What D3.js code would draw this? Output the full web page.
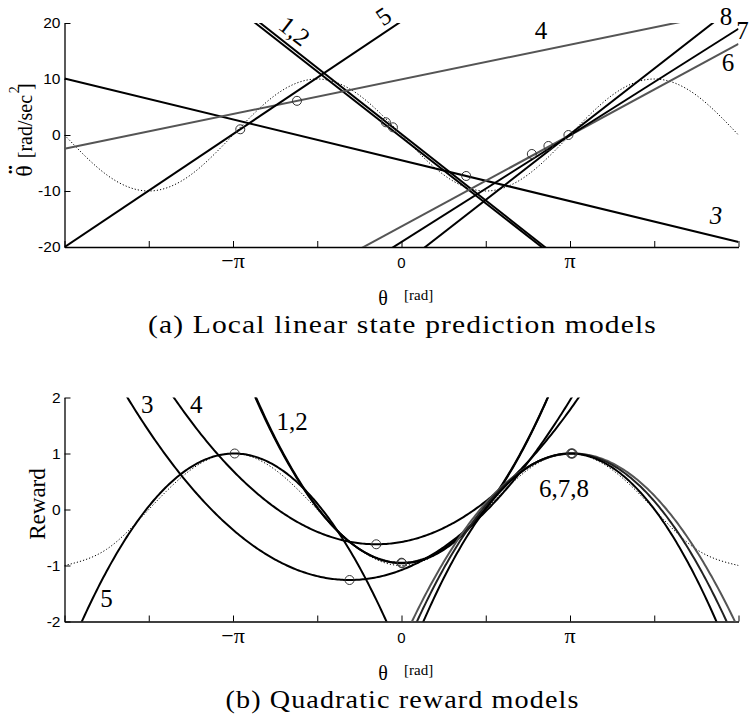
<!DOCTYPE html>
<html><head><meta charset="utf-8">
<script src="https://cdn.jsdelivr.net/npm/d3@7"></script>
<style>body{margin:0;background:#fff} svg{display:block}</style>
</head><body>
<svg id="chart" width="752" height="722"></svg>
<script>
const PI = Math.PI;
// ---------- data ----------
const xTickPi = [-2, -1.5, -1, -0.5, 0, 0.5, 1, 1.5, 2];          // in units of π
const xTickLabels = ["", "", "−π", "", "0", "", "π", "", ""];
const yTopTicks = [-20, -10, 0, 10, 20];
const yBotTicks = [-2, -1, 0, 1, 2];

// true dynamics / reward (dotted), read every π/4
const truePi = [-2, -1.75, -1.5, -1.25, -1, -0.75, -0.5, -0.25, 0, 0.25, 0.5, 0.75, 1, 1.25, 1.5, 1.75, 2];
const trueAcc = [0, -7.1, -10, -7.1, 0, 7.1, 10, 7.1, 0, -7.1, -10, -7.1, 0, 7.1, 10, 7.1, 0];
const trueReward = [-1, -0.71, 0, 0.71, 1, 0.71, 0, -0.71, -1, -0.71, 0, 0.71, 1, 0.71, 0, -0.71, -1];

// (a) local linear models: acc = intercept + slope * θ
const linNames = ["1", "2", "3", "4", "5", "6", "7", "8"];
const linIntercept = [-0.42, 0.15, -4.52, 9.94, 20.32, -16.33, -19.1, -23.3];
const linSlope = [-7.49, -7.54, -2.324, 1.97, 6.42, 5.19, 6.06, 7.46];
const linPtTheta = [-0.291, -0.160, 1.206, -1.949, -3.006, 2.430, 2.739, 3.112];
const linPtAcc = [2.27, 1.375, -7.32, 6.1, 1.02, -3.39, -1.96, 0.0];

// (b) quadratic reward models: r = peak + curv * (θ - center)^2
const quadNames = ["1", "2", "3", "4", "5", "6", "7", "8"];
const quadCenter = [0.0, 0.01, -0.969, -0.471, -3.12, 3.206, 3.175, 3.14];
const quadPeak = [-0.95, -0.96, -1.259, -0.621, 1.0, 1.0, 1.0, 1.0];
const quadCurv = [0.397, 0.40, 0.19, 0.184, -0.372, -0.331, -0.36, -0.402];
const quadPtTheta = [0.0, 0.01, -0.969, -0.471, -3.11, 3.16, 3.175, 3.19];
const quadPtReward = [-0.95, -0.96, -1.259, -0.621, 1.0, 1.0, 1.0, 1.0];

// curve labels
const topLabelText = ["1,2", "5", "4", "8", "7", "6", "3"];
const botLabelText = ["3", "4", "1,2", "5", "6,7,8"];

// ---------- layout / style ----------
const svg = d3.select("#chart");
const SERIF = "'Liberation Serif','Times New Roman',serif";
const SANS = "'Liberation Sans',Arial,sans-serif";
const grayTop = new Set(["4", "6"]);
const quadColor = {"6": "#555", "7": "#222"};

const x = d3.scaleLinear().domain([-2 * PI, 2 * PI]).range([64.5, 738.5]);
const yTop = d3.scaleLinear().domain([-20, 20]).range([247, 23]);
const yBot = d3.scaleLinear().domain([-2, 2]).range([621.5, 397.5]);

const topLabelPos = [[-1.99, 18.6, 38, false], [-0.341, 21.25, -34, false], [2.603, 18.75, 0, false],
  [6.05, 21.25, 0, false], [6.36, 18.75, 0, false], [6.086, 13.0, 0, false], [5.863, -14.3, 0, true]];
const botLabelPos = [[-4.74, 1.88], [-3.827, 1.88], [-2.037, 1.58], [-5.502, -1.58], [3.031, 0.384]];

function clip(id, y) {
  svg.append("clipPath").attr("id", id).append("rect")
    .attr("x", x.range()[0]).attr("y", y.range()[1])
    .attr("width", x.range()[1] - x.range()[0]).attr("height", y.range()[0] - y.range()[1]);
}
clip("cTop", yTop); clip("cBot", yBot);

function axes(y, ticks) {
  const gx = svg.append("g").attr("transform", `translate(0,${y.range()[0]})`)
    .call(d3.axisBottom(x).tickValues(xTickPi.map(k => k * PI)).tickSizeInner(-6).tickSizeOuter(0).tickFormat(""));
  const gy = svg.append("g").attr("transform", `translate(${x.range()[0]},0)`)
    .call(d3.axisLeft(y).tickValues(ticks).tickSizeInner(-6).tickSizeOuter(0).tickPadding(4).tickFormat(d => String(d)));
  [gx, gy].forEach(g => {
    g.select(".domain").attr("stroke", "#000").attr("stroke-width", 1.3);
    g.selectAll(".tick line").attr("stroke", "#000").attr("stroke-width", 1);
  });
  gy.selectAll("text").attr("font-family", SANS).attr("font-size", 15.5).attr("fill", "#000");
  // x tick labels
  xTickPi.forEach((k, i) => {
    const lab = xTickLabels[i];
    if (!lab) return;
    svg.append("text").attr("x", x(k * PI)).attr("y", y.range()[0] + 21)
      .attr("text-anchor", "middle")
      .attr("font-family", lab === "0" ? SANS : SERIF)
      .attr("font-size", lab === "0" ? 15 : 22)
      .text(lab);
  });
  // x axis title
  const base = y.range()[0];
  svg.append("text").attr("x", 383).attr("y", base + 58).attr("text-anchor", "middle")
    .attr("font-family", SERIF).attr("font-size", 20).text("θ");
  svg.append("text").attr("x", 404).attr("y", base + 53)
    .attr("font-family", SERIF).attr("font-size", 15).text("[rad]");
}
axes(yTop, yTopTicks);
axes(yBot, yBotTicks);

// ---------- panel (a) ----------
const gTop = svg.append("g").attr("clip-path", "url(#cTop)");
const dotted = (y, vals) => d3.line().x((d, i) => x(truePi[i] * PI)).y(d => y(d)).curve(d3.curveNatural)(vals);
gTop.append("path").attr("d", dotted(yTop, trueAcc)).attr("fill", "none")
  .attr("stroke", "#000").attr("stroke-width", 1).attr("stroke-dasharray", "1.2,2");

const lineGen = d3.line().x(d => x(d[0])).y(d => yTop(d[1]));
linNames.forEach((n, i) => {
  const pts = [-2 * PI, 2 * PI].map(t => [t, linIntercept[i] + linSlope[i] * t]);
  gTop.append("path").attr("d", lineGen(pts)).attr("fill", "none")
    .attr("stroke", grayTop.has(n) ? "#555" : "#000").attr("stroke-width", 2);
});
linNames.forEach((n, i) => {
  svg.append("circle").attr("cx", x(linPtTheta[i])).attr("cy", yTop(linPtAcc[i])).attr("r", 4.5)
    .attr("fill", "none").attr("stroke", "#333").attr("stroke-width", 1);
});
topLabelText.forEach((t, i) => {
  const [th, v, rot, ital] = topLabelPos[i];
  const px = x(th), py = yTop(v);
  svg.append("text").attr("transform", `translate(${px},${py}) rotate(${rot})`)
    .attr("text-anchor", "middle").attr("dy", "0.35em")
    .attr("font-family", SERIF).attr("font-size", 25).attr("font-style", ital ? "italic" : "normal")
    .text(t);
});

// y label (a): θ with double dot, [rad/sec^2]
const ylg = svg.append("g").attr("transform", "translate(32,130) rotate(-90)").attr("font-family", SERIF);
const yl = ylg.append("text").attr("text-anchor", "middle");
yl.append("tspan").attr("font-size", 24).text("θ");
yl.append("tspan").attr("font-size", 20).attr("dx", 7).text("[rad/sec");
yl.append("tspan").attr("font-size", 20).attr("dx", 5).text("]");
yl.append("tspan").attr("font-size", 14).attr("dx", -10).attr("dy", -13).text("2");
ylg.append("text").attr("x", -39.5).attr("y", -5).attr("text-anchor", "middle")
  .attr("font-size", 28).attr("font-weight", "bold").text("¨");

// caption (a)
svg.append("text").attr("x", 402.5).attr("y", 333).attr("text-anchor", "middle")
  .attr("font-family", SERIF).attr("font-size", 26).attr("letter-spacing", 1)
  .attr("textLength", 509).attr("lengthAdjust", "spacingAndGlyphs")
  .text("(a) Local linear state prediction models");

// ---------- panel (b) ----------
const gBot = svg.append("g").attr("clip-path", "url(#cBot)");
gBot.append("path").attr("d", dotted(yBot, trueReward)).attr("fill", "none")
  .attr("stroke", "#000").attr("stroke-width", 1).attr("stroke-dasharray", "1.2,2");
const thetas = d3.range(0, 401).map(k => -2 * PI + k * (4 * PI / 400));
const quadGen = d3.line().x(d => x(d[0])).y(d => yBot(d[1]));
quadNames.forEach((n, i) => {
  const pts = thetas.map(t => [t, quadPeak[i] + quadCurv[i] * (t - quadCenter[i]) ** 2]);
  gBot.append("path").attr("d", quadGen(pts)).attr("fill", "none")
    .attr("stroke", quadColor[n] || "#000").attr("stroke-width", 2);
});
quadNames.forEach((n, i) => {
  svg.append("circle").attr("cx", x(quadPtTheta[i])).attr("cy", yBot(quadPtReward[i])).attr("r", 4.5)
    .attr("fill", "none").attr("stroke", "#333").attr("stroke-width", 1);
});
botLabelText.forEach((t, i) => {
  const [th, v] = botLabelPos[i];
  svg.append("text").attr("x", x(th)).attr("y", yBot(v)).attr("dy", "0.35em")
    .attr("text-anchor", "middle").attr("font-family", SERIF).attr("font-size", 25).text(t);
});
svg.append("text").attr("transform", "translate(45,504) rotate(-90)")
  .attr("text-anchor", "middle").attr("font-family", SERIF).attr("font-size", 23).text("Reward");
svg.append("text").attr("x", 402.5).attr("y", 708).attr("text-anchor", "middle")
  .attr("font-family", SERIF).attr("font-size", 26).attr("letter-spacing", 1)
  .attr("textLength", 354).attr("lengthAdjust", "spacingAndGlyphs")
  .text("(b) Quadratic reward models");
</script>
</body></html>
